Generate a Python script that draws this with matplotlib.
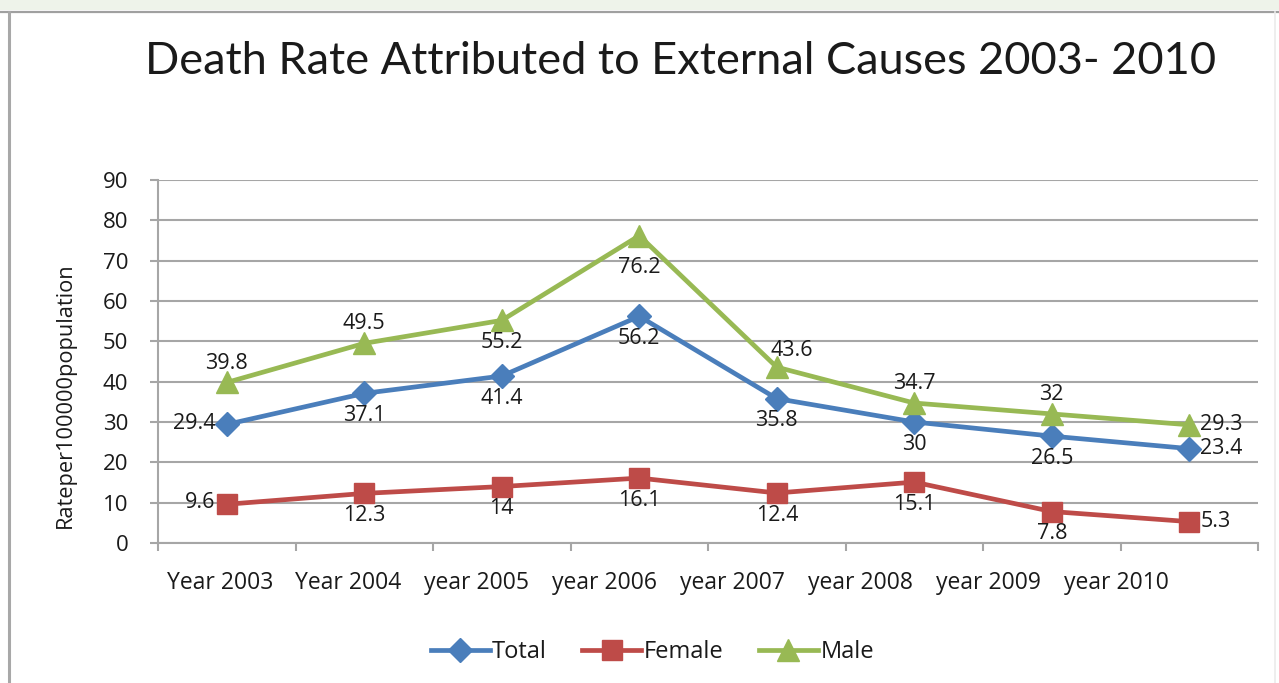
import matplotlib
matplotlib.use("Agg")
import matplotlib.pyplot as plt
import numpy as np
from matplotlib.lines import Line2D
from matplotlib.patches import Rectangle

plt.rcParams['font.family'] = ['Open Sans', 'DejaVu Sans']

years = ["Year 2003", "Year 2004", "year 2005", "year 2006",
         "year 2007", "year 2008", "year 2009", "year 2010"]
total = [29.4, 37.1, 41.4, 56.2, 35.8, 30, 26.5, 23.4]
female = [9.6, 12.3, 14, 16.1, 12.4, 15.1, 7.8, 5.3]
male = [39.8, 49.5, 55.2, 76.2, 43.6, 34.7, 32, 29.3]

# where each value label sits relative to its marker
total_pos = ["left", "below", "below", "below", "below", "below", "below", "right"]
female_pos = ["left", "below", "below", "below", "below", "below", "below", "right"]
male_pos = ["above", "above", "below", "belowfar", "aboveright", "above", "above", "right"]

BLUE = "#4A7EBB"
RED = "#BE4B48"
GREEN = "#98B954"
GRID = "#A6A6A6"
TEXT = "#1A1A1A"

fig = plt.figure(figsize=(12.79, 6.83), dpi=100)
fig.patch.set_facecolor("white")

# outer frame of the chart area
fig.add_artist(Rectangle((0, 1 - 10 / 683), 1, 10 / 683, transform=fig.transFigure,
                         facecolor="#EEF3EA", edgecolor="none", zorder=0))
fig.add_artist(Line2D([0, 1], [1 - 12 / 683] * 2, transform=fig.transFigure,
                      color="#A0A0A0", lw=1.6))
fig.add_artist(Line2D([9 / 1279] * 2, [0, 1 - 12 / 683], transform=fig.transFigure,
                      color="#A8A8A8", lw=2.2))
fig.add_artist(Line2D([1275 / 1279] * 2, [0, 1 - 12 / 683], transform=fig.transFigure,
                      color="#EBEBEB", lw=1.2))

ax = fig.add_axes([158 / 1279, 1 - 543 / 683, 1100 / 1279, 363 / 683])
x = np.arange(len(years))

ax.set_xlim(-0.5, len(years) - 0.5)
ax.set_ylim(0, 90)
ax.set_yticks(np.arange(0, 91, 10))
ax.yaxis.grid(True, color=GRID, lw=1.5)
ax.set_axisbelow(True)
for side in ("top", "right"):
    ax.spines[side].set_visible(False)
for side in ("left", "bottom"):
    ax.spines[side].set_color(GRID)
    ax.spines[side].set_linewidth(1.5)

# category boundaries carry the tick marks; labels sit on their own positions
ax.set_xticks(np.arange(-0.5, len(years), 1.0), minor=True)
ax.tick_params(axis="x", which="minor", length=6, width=1.5, color=GRID)
label_step = 128 / 137.5
ax.set_xticks(x * label_step - 0.045)
ax.set_xticklabels(years, fontsize=16.5, color=TEXT)
ax.tick_params(axis="x", which="major", length=0, pad=20)
ax.tick_params(axis="y", length=6, width=1.5, color=GRID, labelsize=16,
               labelcolor=TEXT, pad=15.5)

ax.set_ylabel("Rateper100000population", fontsize=15.7, color=TEXT)
ax.yaxis.set_label_coords(-82 / 1100, 148 / 363)

ax.plot(x, total, color=BLUE, lw=3.4, marker="D", ms=12, label="Total", zorder=3)
ax.plot(x, female, color=RED, lw=3.4, marker="s", ms=14, label="Female", zorder=3)
ax.plot(x, male, color=GREEN, lw=3.4, marker="^", ms=16, label="Male", zorder=3)

offsets = {
    "left": ((-8, 1), "right", "center"),
    "right": ((8, 0), "left", "center"),
    "below": ((0, -16), "center", "center"),
    "belowfar": ((0, -23), "center", "center"),
    "above": ((0, 14), "center", "center"),
    "aboveright": ((11, 12), "center", "center"),
}


def put_labels(values, places):
    for xi, v, p in zip(x, values, places):
        off, ha, va = offsets[p]
        ax.annotate(f"{v:g}", (xi, v), xytext=off, textcoords="offset points",
                    ha=ha, va=va, fontsize=15.5, color=TEXT, zorder=4)


put_labels(total, total_pos)
put_labels(female, female_pos)
put_labels(male, male_pos)

fig.text(0.532, 1 - 62 / 683, "Death Rate Attributed to External Causes 2003- 2010",
         family=["Lato", "DejaVu Sans"], ha="center", va="center",
         fontsize=32.5, color=TEXT)

fig.legend(loc="center", bbox_to_anchor=(0.51, 1 - 652 / 683), ncol=3, frameon=False,
           fontsize=17, handlelength=2.5, handletextpad=0.1, columnspacing=1.5,
           labelcolor=TEXT)

fig.savefig("out.png", dpi=100, facecolor="white")
